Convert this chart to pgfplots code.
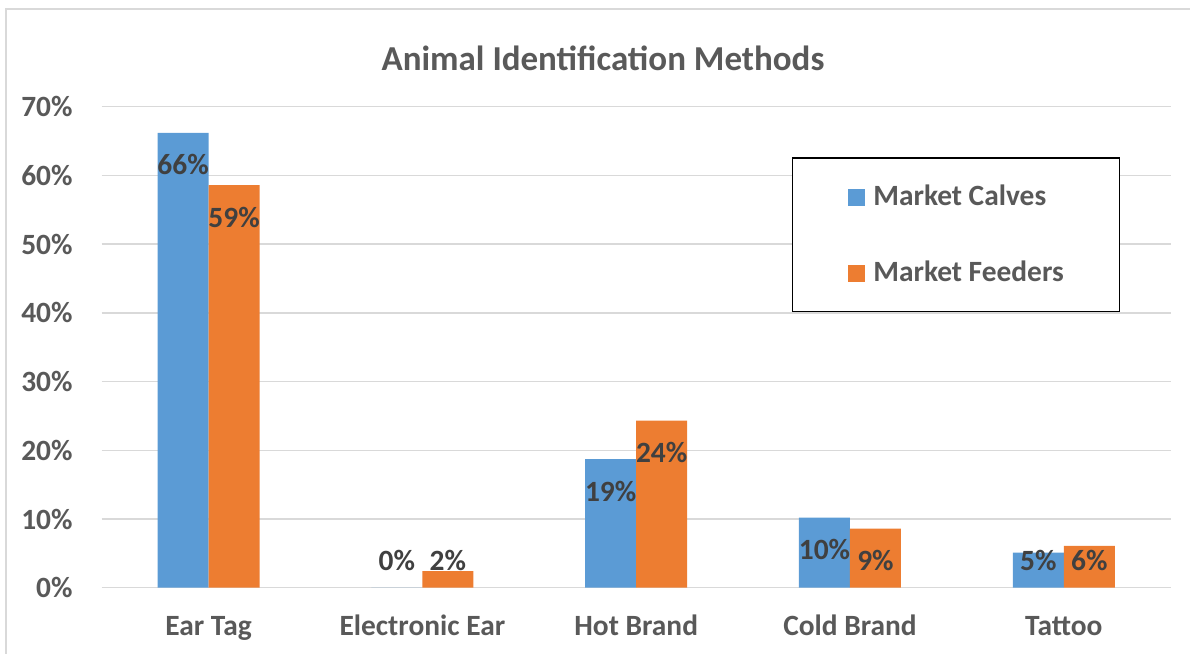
\documentclass[border=0pt]{standalone}
\usepackage{fontspec}
\setmainfont{Carlito}
\usepackage{pgfplots}
\pgfplotsset{compat=1.18}
\definecolor{calves}{HTML}{5B9BD5}
\definecolor{feeders}{HTML}{ED7D31}
\definecolor{gridgray}{HTML}{D9D9D9}
\definecolor{txtgray}{HTML}{595959}
\definecolor{lblgray}{HTML}{404040}
\newcommand{\chartfont}{\fontsize{29.4}{35}\selectfont\bfseries}
\begin{document}
\begin{tikzpicture}[x=1pt,y=1pt]
\begin{axis}[
  at={(0pt,0pt)}, anchor=south west,
  scale only axis, width=1069pt, height=481pt,
  ymin=0, ymax=70, xmin=-0.5, xmax=4.5,
  ybar=0pt, bar width=51pt,
  axis line style={draw=none},
  major tick length=0pt, tick style={draw=none},
  ymajorgrids, grid style={gridgray, line width=1.5pt},
  ytick={0,10,...,70},
  yticklabel={\pgfmathprintnumber[fixed,precision=0]{\tick}\%},
  /pgf/number format/assume math mode=true,
  yticklabel style={anchor=east, inner sep=0pt, xshift=-29pt, font=\chartfont, text=txtgray},
  xtick={0,1,2,3,4},
  xticklabels={Ear Tag, Electronic Ear, Hot Brand, Cold Brand, Tattoo},
  xticklabel style={anchor=base, inner sep=0pt, yshift=-47.3pt, font=\chartfont, text=txtgray},
  point meta=y,
  nodes near coords={\pgfmathprintnumber[fixed,precision=0]{\pgfplotspointmeta}\%},
  visualization depends on={rawy \as \rawy},
  every node near coord/.append style={anchor=center, inner sep=0pt, font=\chartfont, text=lblgray,
    yshift={max(-32,27.7-\rawy*6.871)}},
  legend image code/.code={\fill[#1] (0pt,0pt) rectangle (17pt,17pt);},
  legend style={at={(0.6455,0.8948)}, anchor=north west, draw=black, line width=1.3pt,
    cells={anchor=base west},
    inner xsep=56pt, inner ysep=30pt, row sep=57.7pt, column sep=8pt,
    nodes={inner sep=0pt, text height=18pt, text depth=0pt}, font=\chartfont, text=txtgray},
]
\addplot[fill=calves, draw=none] coordinates {(0,66.2) (1,0) (2,18.7) (3,10.2) (4,5.1)};
\addplot[fill=feeders, draw=none] coordinates {(0,58.6) (1,2.4) (2,24.3) (3,8.6) (4,6.1)};
\legend{Market Calves, Market Feeders}
\end{axis}
% chart title
\node[anchor=base, font=\fontsize{35}{42}\selectfont\bfseries, text=txtgray, inner sep=0pt]
  at (501.3,516.7) {Animal Identification Methods};
% chart frame
\draw[gridgray, line width=1.5pt] (-95.7,-70) -- (-95.7,578.7) -- (1100,578.7);
% page extent
\pgfresetboundingbox
\useasboundingbox (-101.7,-65.3) rectangle (1088.3,587.7);
\end{tikzpicture}
\end{document}
